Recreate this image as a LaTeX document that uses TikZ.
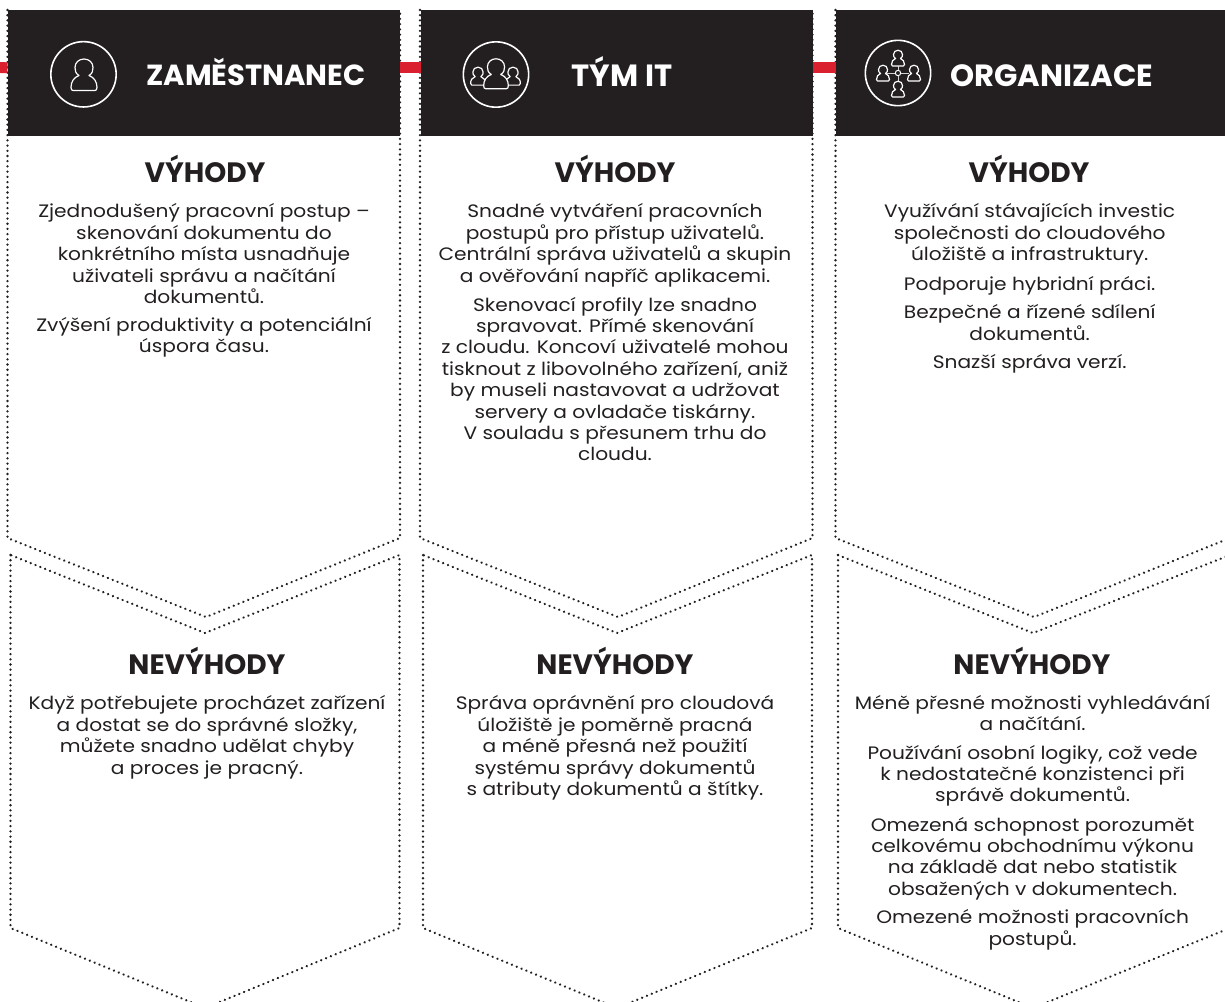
\documentclass[tikz,border=0pt]{standalone}
\usepackage{fontspec}
\setmainfont{Poppins}
\newfontfamily\bodyfont[FakeStretch=1.12]{Poppins}
\definecolor{ink}{HTML}{231F20}
\definecolor{barred}{HTML}{DA1F2E}
\tikzset{
 x=0.75pt,y=-0.75pt,
 dots/.style={draw=ink,line width=1.9pt,line cap=round,dash pattern=on 0.01pt off 3.9pt},
 header/.style={fill=ink,inner sep=0pt,minimum height=94.5pt,anchor=north west},
 redbar/.style={draw=barred,line width=8.2pt},
 title/.style={text=white,inner sep=0pt,anchor=base,font=\fontsize{#1}{24}\selectfont\bfseries},
 heading/.style={text=ink,inner sep=0pt,anchor=base,font=\fontsize{21}{24}\selectfont\bfseries},
 body/.style={text=ink,inner sep=0pt,align=center,anchor=north,font=\bodyfont\fontsize{13.5}{16.05}\selectfont,
   execute at begin node={\rule{0pt}{14pt}}},
 ring/.style={draw=white,line width=1.2pt,circle,inner sep=0pt,minimum size=49pt},
 person/.pic={\draw[draw=white,fill=ink,line width=0.9pt,line join=round]
   (-5,1) .. controls (-8.5,-1) and (-9,-4) .. (-9,-7) .. controls (-9,-12) and (-5,-15.5) .. (0,-15.5)
   .. controls (5,-15.5) and (9,-12) .. (9,-7) .. controls (9,-4) and (8.5,-1) .. (5,1)
   .. controls (10,3) and (13,7) .. (13,13) .. controls (13,15) and (12,16) .. (11,16)
   -- (-11,16) .. controls (-12,16) and (-13,15) .. (-13,13) .. controls (-13,7) and (-10,3) .. (-5,1) -- cycle;},
 link/.style={draw=white!80!ink,line width=0.75pt},
}
\begin{document}
\begin{tikzpicture}
\clip (0,0) rectangle (1225,1001);
\path[fill=white] (0,0) rectangle (1225,1001);
% dotted outlines
\draw[dots] (7.5,10) -- (7.5,538) -- (206,617) -- (400,538) -- (400,10);
\draw[dots] (10.5,555) -- (10.5,928) -- (205,1008) -- (399.5,928) -- (399.5,555) -- (205,633) -- cycle;
\draw[dots] (420,10) -- (420,538) -- (618,617) -- (812.5,538) -- (812.5,10);
\draw[dots] (423,555) -- (423,928) -- (617,1008) -- (812,928) -- (812,555) -- (617,633) -- cycle;
\draw[dots] (835.5,10) -- (835.5,538) -- (1034,617) -- (1230,538);
\draw[dots] (838,555) -- (838,928) -- (1033,1008) -- (1230,928);
\draw[dots] (838,555) -- (1033,633) -- (1230,555);
% headers
\node[header,minimum width=294pt] (h1) at (7.5,10) {};
\node[header,minimum width=293.5pt] (h2) at (421,10) {};
\node[header,minimum width=293pt] (h3) at (835.5,10) {};
\coordinate (edge) at (0,67.5);
\draw[redbar] (edge) -- ([yshift=4.1pt]h1.west);
\draw[redbar] ([yshift=4.1pt]h1.east) -- ([yshift=4.1pt]h2.west);
\draw[redbar] ([yshift=4.1pt]h2.east) -- ([yshift=4.1pt]h3.west);
% titles
\node[title=21.8] (t1) at (256,85) {ZAMĚSTNANEC};
\node[title=23] (t2) at (622,86) {TÝM IT};
\node[title=23] (t3) at (1052,86) {ORGANIZACE};
% icons
\node[ring] (r1) at (83.5,74.3) {};
\pic at (84,74.5) {person};
\node[ring] (r2) at (496,74.5) {};
\pic[scale=.57] at (478,76) {person};
\pic[scale=.57] at (513,76) {person};
\pic[scale=.95] at (496,73.5) {person};
\node[ring] (r3) at (898,73) {};
\node[draw=white,line width=.75pt,circle,inner sep=0pt,minimum size=4pt] (hub) at (898,73) {};
\coordinate (pt) at (898,66); \coordinate (pb) at (898,81);
\coordinate (pl) at (887,73); \coordinate (pr) at (909,73);
\draw[link] (hub) -- (pt); \draw[link] (hub) -- (pb); \draw[link] (hub) -- (pl); \draw[link] (hub) -- (pr);
\pic[scale=.5] at (898,58) {person};
\pic[scale=.5] at (898,89) {person};
\pic[scale=.5] at (883,73) {person};
\pic[scale=.5] at (914,73) {person};
% column 1
\node[heading] (v1) at (205,182.7) {VÝHODY};
\node[body] (a1) at (204,203.5) {Zjednodušený pracovní postup –\\skenování dokumentu do\\konkrétního místa usnadňuje\\uživateli správu a načítání\\dokumentů.};
\node[body] (a2) at (204,316.8) {Zvýšení produktivity a potenciální\\úspora času.};
\node[heading] (n1) at (207,674) {NEVÝHODY};
\node[body] (b1) at (207,695.5) {Když potřebujete procházet zařízení\\a dostat se do správné složky,\\můžete snadno udělat chyby\\a proces je pracný.};
% column 2
\node[heading] (v2) at (615,182.7) {VÝHODY};
\node[body] (a3) at (615,203.5) {Snadné vytváření pracovních\\postupů pro přístup uživatelů.\\Centrální správa uživatelů a skupin\\a ověřování napříč aplikacemi.};
\node[body] (a4) at (615,296.8) {Skenovací profily lze snadno\\spravovat. Přímé skenování\\z cloudu. Koncoví uživatelé mohou\\tisknout z libovolného zařízení, aniž\\by museli nastavovat a udržovat\\servery a ovladače tiskárny.\\V souladu s přesunem trhu do\\cloudu.};
\node[heading] (n2) at (615,674) {NEVÝHODY};
\node[body] (b2) at (615,695.5) {Správa oprávnění pro cloudová\\úložiště je poměrně pracná\\a méně přesná než použití\\systému správy dokumentů\\s atributy dokumentů a štítky.};
% column 3
\node[heading] (v3) at (1029,182.7) {VÝHODY};
\node[body] (a5) at (1029.7,203.5) {Využívání stávajících investic\\společnosti do cloudového\\úložiště a infrastruktury.};
\node[body] (a6) at (1029.7,271.3) {Podporuje hybridní práci.};
\node[body] (a7) at (1029.7,304.5) {Bezpečné a řízené sdílení\\dokumentů.};
\node[body] (a8) at (1029.7,349.3) {Snazší správa verzí.};
\node[heading] (n3) at (1032,674) {NEVÝHODY};
\node[body] (b3) at (1032.6,694.8) {Méně přesné možnosti vyhledávání\\a načítání.};
\node[body] (b4) at (1032.6,744.8) {Používání osobní logiky, což vede\\k nedostatečné konzistenci při\\správě dokumentů.};
\node[body] (b5) at (1032.6,816.8) {Omezená schopnost porozumět\\celkovému obchodnímu výkonu\\na základě dat nebo statistik\\obsažených v dokumentech.};
\node[body] (b6) at (1032.6,909.5) {Omezené možnosti pracovních\\postupů.};
\end{tikzpicture}
\end{document}
